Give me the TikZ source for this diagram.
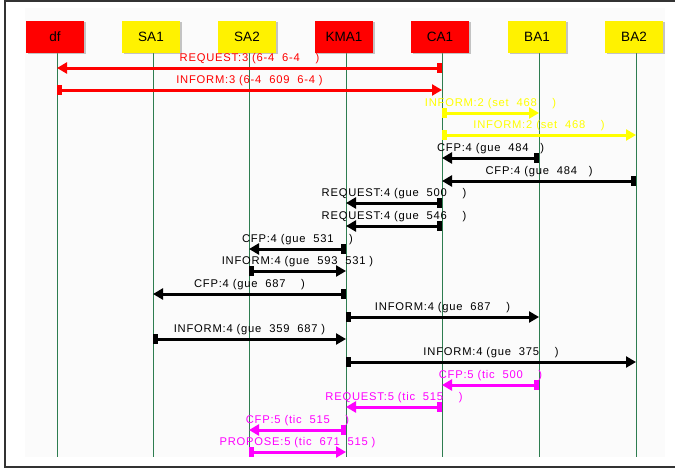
\documentclass[tikz,border=0pt]{standalone}
\usepackage{fontspec}
\setmainfont{Liberation Sans}
\newfontfamily\msgfont[LetterSpace=7]{Liberation Sans}
\usetikzlibrary{arrows.meta,shadows}
\definecolor{lifegreen}{RGB}{46,125,80}
\definecolor{msgyellow}{RGB}{255,255,0}
\definecolor{msgmagenta}{RGB}{255,0,255}

\begin{document}
\begin{tikzpicture}[x=1pt,y=-1pt]
\tikzset{
  agent/.style={rectangle,anchor=south,xshift=-2pt,minimum width=58pt,minimum height=32pt,inner sep=0pt,
    font=\fontsize{13.5}{15}\selectfont,drop shadow={shadow xshift=1.5pt,shadow yshift=-1pt,opacity=.45}},
  lifeline/.style={draw=lifegreen,line width=1pt},
  message/.style={color=#1,line width=3pt,{Rectangle[length=5pt,width=10pt]}-{Triangle[length=10pt,width=11pt]}},
  msglabel/.style={above,inner sep=2.5pt,font=\msgfont\fontsize{11.2}{13}\selectfont}
}
\useasboundingbox (0,0) rectangle (675,471);
\fill[white] (0,0) rectangle (675,471);
\fill[black!1.5] (25,8) rectangle (665,457);
\draw[line width=2pt,black!80] (675,1) -- (5,1) -- (5,467) -- (675,467);
% lifelines
\coordinate (l_df) at (57,53);
\coordinate (l_SA1) at (153,53);
\coordinate (l_SA2) at (249,53);
\coordinate (l_KMA1) at (346,53);
\coordinate (l_CA1) at (442,53);
\coordinate (l_BA1) at (539,53);
\coordinate (l_BA2) at (636,53);
\draw[lifeline] (l_df) -- (l_df |- 0,457);
\draw[lifeline] (l_SA1) -- (l_SA1 |- 0,457);
\draw[lifeline] (l_SA2) -- (l_SA2 |- 0,457);
\draw[lifeline] (l_KMA1) -- (l_KMA1 |- 0,457);
\draw[lifeline] (l_CA1) -- (l_CA1 |- 0,457);
\draw[lifeline] (l_BA1) -- (l_BA1 |- 0,457);
\draw[lifeline] (l_BA2) -- (l_BA2 |- 0,457);
% agents
\node[agent,fill=red] (a_df) at (l_df) {df};
\node[agent,fill=yellow] (a_SA1) at (l_SA1) {SA1};
\node[agent,fill=yellow] (a_SA2) at (l_SA2) {SA2};
\node[agent,fill=red] (a_KMA1) at (l_KMA1) {KMA1};
\node[agent,fill=red] (a_CA1) at (l_CA1) {CA1};
\node[agent,fill=yellow] (a_BA1) at (l_BA1) {BA1};
\node[agent,fill=yellow] (a_BA2) at (l_BA2) {BA2};
% messages
\draw[message=red] (l_CA1 |- 0,68) -- node[msglabel]{REQUEST:3 (6-4~~6-4~~~~)} (l_df |- 0,68);
\draw[message=red] (l_df |- 0,90) -- node[msglabel]{INFORM:3 (6-4~~609~~6-4 )} (l_CA1 |- 0,90);
\draw[message=msgyellow] (l_CA1 |- 0,113) -- node[msglabel]{INFORM:2 (set~~468~~~~)} (l_BA1 |- 0,113);
\draw[message=msgyellow] (l_CA1 |- 0,135) -- node[msglabel]{INFORM:2 (set~~468~~~~)} (l_BA2 |- 0,135);
\draw[message=black] (l_BA1 |- 0,158) -- node[msglabel]{CFP:4 (gue~~484~~~)} (l_CA1 |- 0,158);
\draw[message=black] (l_BA2 |- 0,181) -- node[msglabel]{CFP:4 (gue~~484~~~)} (l_CA1 |- 0,181);
\draw[message=black] (l_CA1 |- 0,203) -- node[msglabel]{REQUEST:4 (gue~~500~~~~)} (l_KMA1 |- 0,203);
\draw[message=black] (l_CA1 |- 0,226) -- node[msglabel]{REQUEST:4 (gue~~546~~~~)} (l_KMA1 |- 0,226);
\draw[message=black] (l_KMA1 |- 0,249) -- node[msglabel]{CFP:4 (gue~~531~~~~)} (l_SA2 |- 0,249);
\draw[message=black] (l_SA2 |- 0,271) -- node[msglabel]{INFORM:4 (gue~~593~~531 )} (l_KMA1 |- 0,271);
\draw[message=black] (l_KMA1 |- 0,294) -- node[msglabel]{CFP:4 (gue~~687~~~~)} (l_SA1 |- 0,294);
\draw[message=black] (l_KMA1 |- 0,317) -- node[msglabel]{INFORM:4 (gue~~687~~~~)} (l_BA1 |- 0,317);
\draw[message=black] (l_SA1 |- 0,339) -- node[msglabel]{INFORM:4 (gue~~359~~687 )} (l_KMA1 |- 0,339);
\draw[message=black] (l_KMA1 |- 0,362) -- node[msglabel]{INFORM:4 (gue~~375~~~~)} (l_BA2 |- 0,362);
\draw[message=msgmagenta] (l_BA1 |- 0,385) -- node[msglabel]{CFP:5 (tic~~500~~~~)} (l_CA1 |- 0,385);
\draw[message=msgmagenta] (l_CA1 |- 0,407) -- node[msglabel]{REQUEST:5 (tic~~515~~~~)} (l_KMA1 |- 0,407);
\draw[message=msgmagenta] (l_KMA1 |- 0,430) -- node[msglabel]{CFP:5 (tic~~515~~~~)} (l_SA2 |- 0,430);
\draw[message=msgmagenta] (l_SA2 |- 0,452) -- node[msglabel]{PROPOSE:5 (tic~~671~~515 )} (l_KMA1 |- 0,452);
\end{tikzpicture}
\end{document}
